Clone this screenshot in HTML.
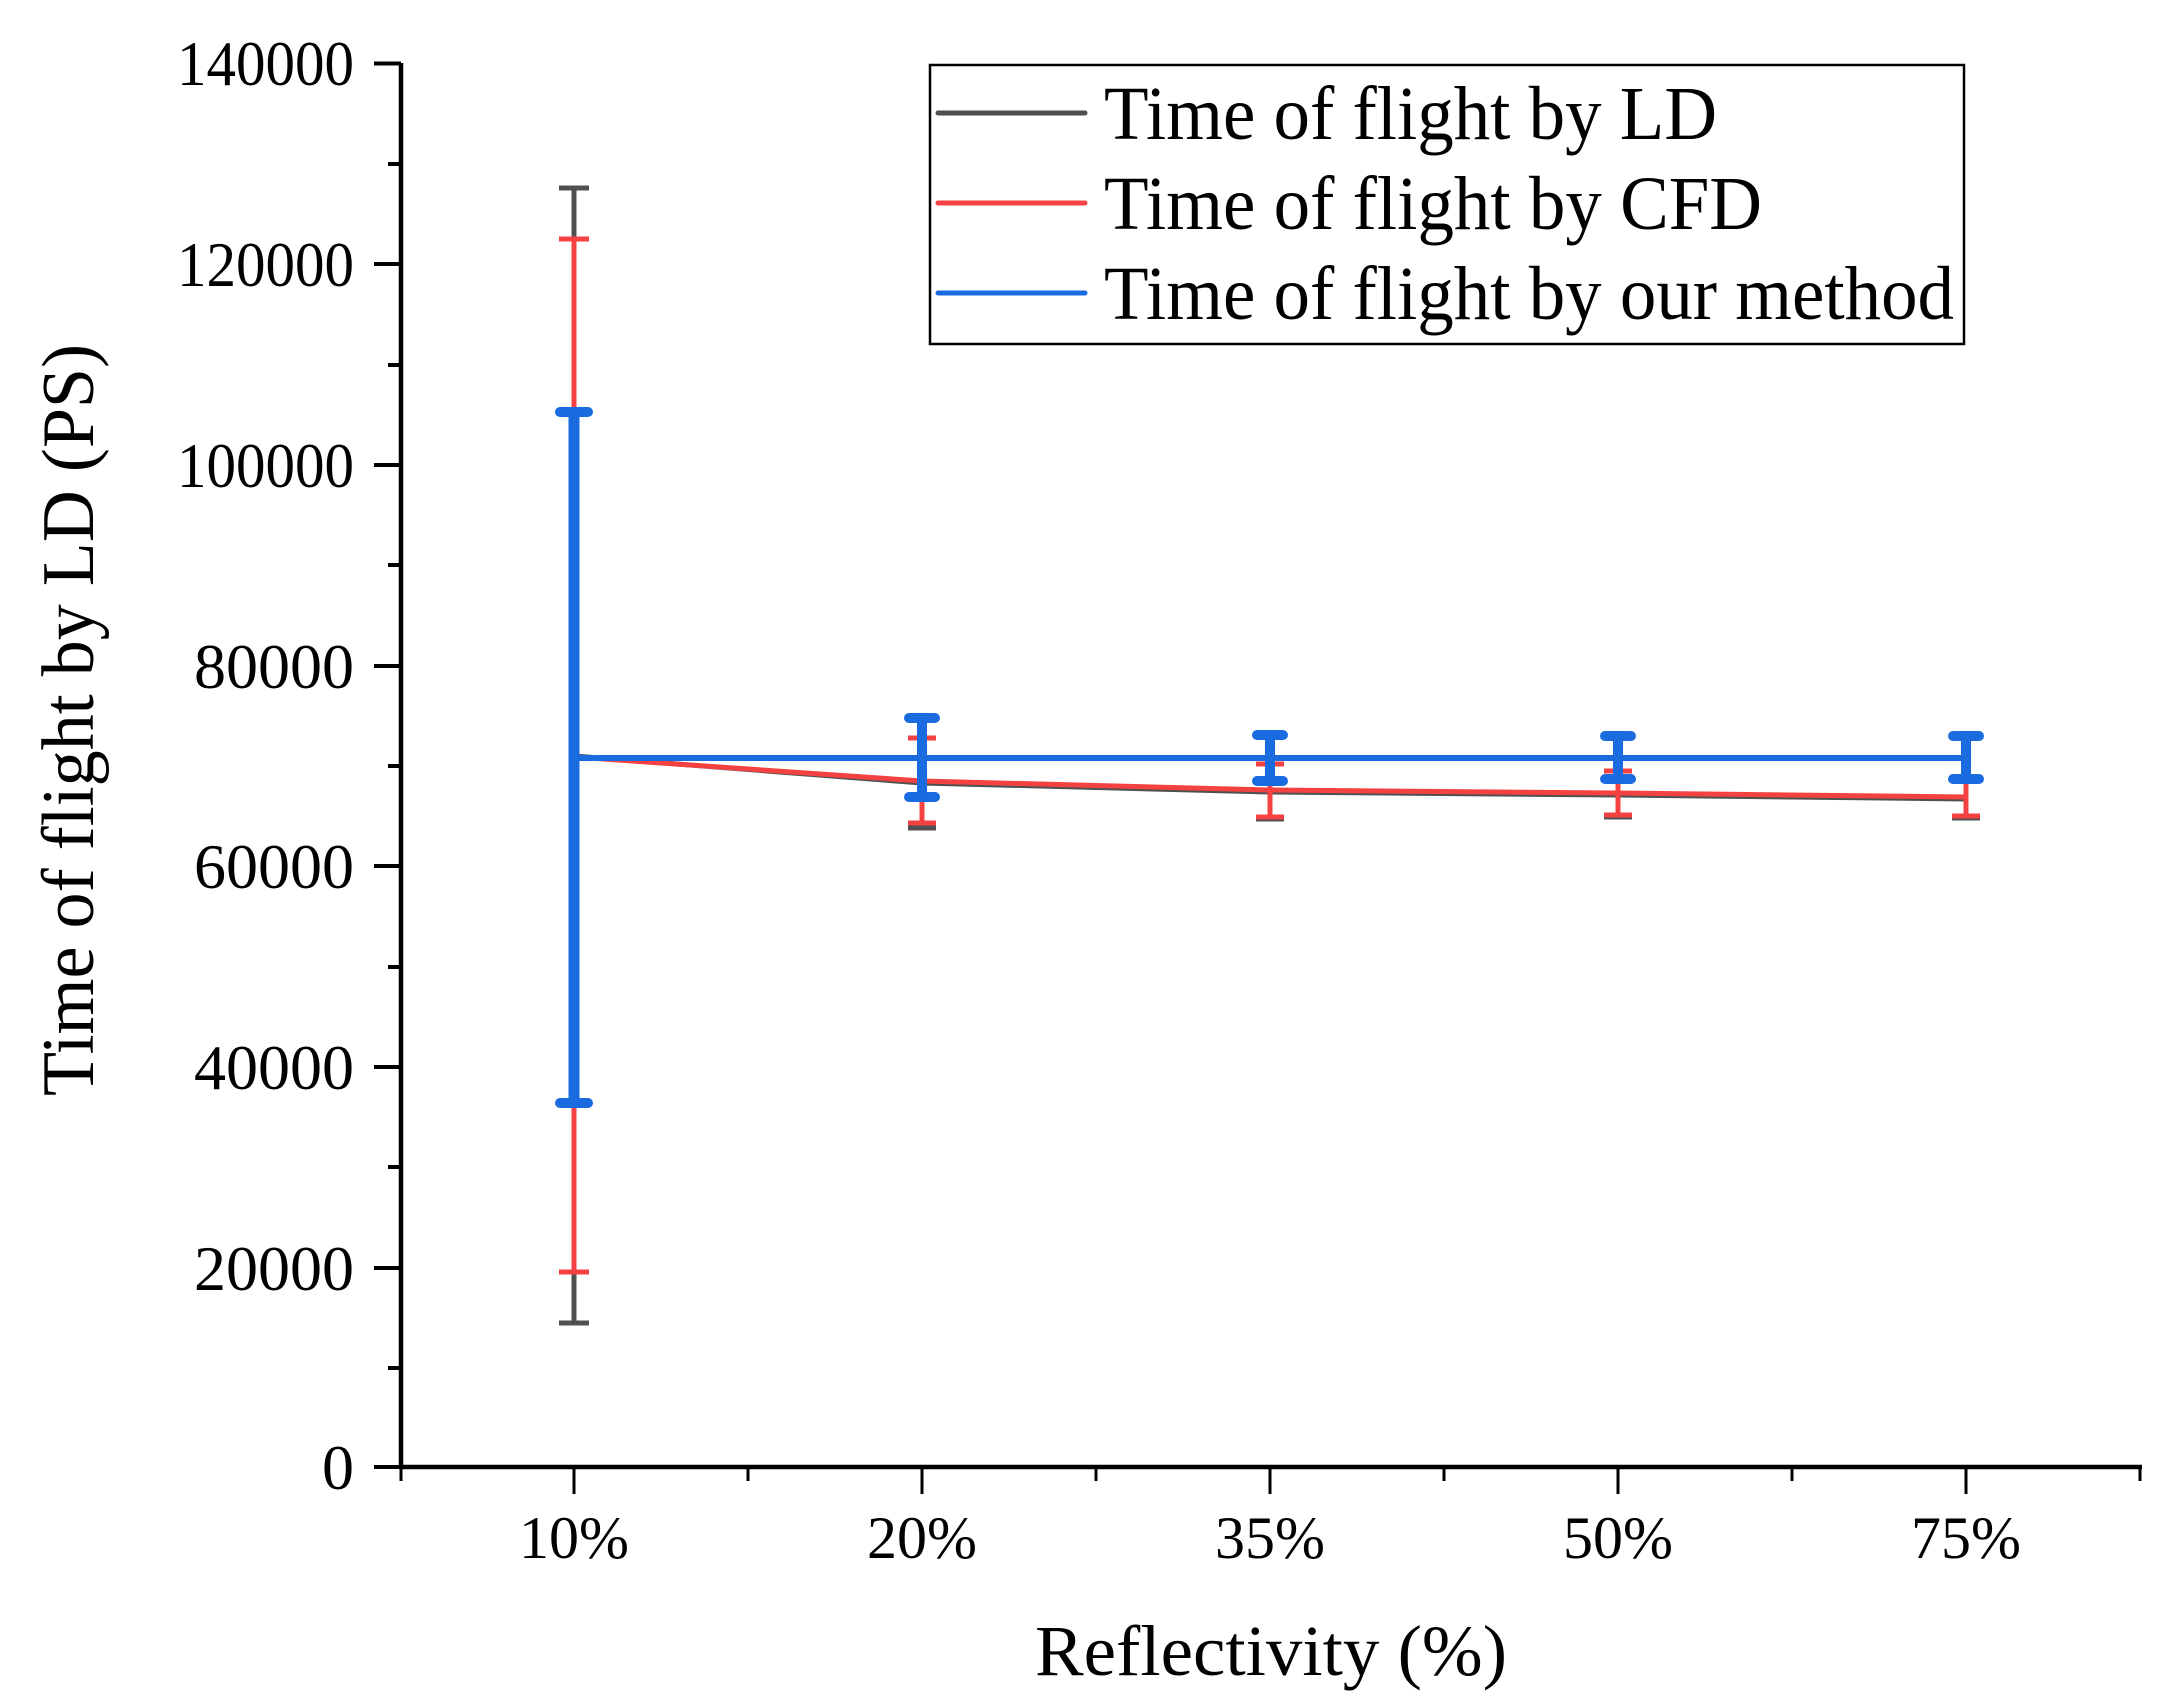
<!DOCTYPE html>
<html><head><meta charset="utf-8"><style>
html,body{margin:0;padding:0;background:#fff;}
svg{display:block;}
text{font-family:"Liberation Serif",serif;fill:#000;}
</style></head><body>
<svg width="2164" height="1702" viewBox="0 0 2164 1702" xmlns="http://www.w3.org/2000/svg">
<!-- axes -->
<g stroke="#000" stroke-width="4.5" fill="none">
<line x1="401" y1="63" x2="401" y2="1469"/>
<line x1="399" y1="1467" x2="2142" y2="1467"/>
</g>
<g stroke="#000" stroke-width="4">
<line x1="374" y1="63.5" x2="401" y2="63.5"/>
<line x1="388" y1="164" x2="401" y2="164"/>
<line x1="374" y1="264" x2="401" y2="264"/>
<line x1="388" y1="365" x2="401" y2="365"/>
<line x1="374" y1="465" x2="401" y2="465"/>
<line x1="388" y1="565" x2="401" y2="565"/>
<line x1="374" y1="666" x2="401" y2="666"/>
<line x1="388" y1="766" x2="401" y2="766"/>
<line x1="374" y1="866" x2="401" y2="866"/>
<line x1="388" y1="967" x2="401" y2="967"/>
<line x1="374" y1="1067" x2="401" y2="1067"/>
<line x1="388" y1="1167" x2="401" y2="1167"/>
<line x1="374" y1="1268" x2="401" y2="1268"/>
<line x1="388" y1="1368" x2="401" y2="1368"/>
<line x1="374" y1="1467" x2="401" y2="1467"/>
</g>
<g stroke="#000" stroke-width="3">
<line x1="401" y1="1467" x2="401" y2="1481"/>
<line x1="574" y1="1467" x2="574" y2="1494"/>
<line x1="748" y1="1467" x2="748" y2="1481"/>
<line x1="922" y1="1467" x2="922" y2="1494"/>
<line x1="1096" y1="1467" x2="1096" y2="1481"/>
<line x1="1270" y1="1467" x2="1270" y2="1494"/>
<line x1="1444" y1="1467" x2="1444" y2="1481"/>
<line x1="1618" y1="1467" x2="1618" y2="1494"/>
<line x1="1792" y1="1467" x2="1792" y2="1481"/>
<line x1="1966" y1="1467" x2="1966" y2="1494"/>
<line x1="2140" y1="1467" x2="2140" y2="1481"/>
</g>
<g font-size="64" text-anchor="end">
<text x="354" y="85" textLength="177" lengthAdjust="spacingAndGlyphs">140000</text>
<text x="354" y="286" textLength="177" lengthAdjust="spacingAndGlyphs">120000</text>
<text x="354" y="487" textLength="177" lengthAdjust="spacingAndGlyphs">100000</text>
<text x="354" y="688">80000</text>
<text x="354" y="888">60000</text>
<text x="354" y="1089">40000</text>
<text x="354" y="1290">20000</text>
<text x="354" y="1489">0</text>
</g>
<g font-size="60" text-anchor="middle">
<text x="574" y="1558">10%</text>
<text x="922" y="1558">20%</text>
<text x="1270" y="1558">35%</text>
<text x="1618" y="1558">50%</text>
<text x="1966" y="1558">75%</text>
</g>
<text x="1271" y="1675" font-size="72" text-anchor="middle" textLength="472" lengthAdjust="spacingAndGlyphs">Reflectivity (%)</text>
<text transform="translate(93,720) rotate(-90)" font-size="74" text-anchor="middle" textLength="752" lengthAdjust="spacingAndGlyphs">Time of flight by LD (PS)</text>

<!-- gray LD -->
<g stroke="#505050" stroke-width="5" fill="none">
<polyline points="574,756 922,783 1270,792 1618,795 1966,799"/>
<line x1="574" y1="188" x2="574" y2="1323"/><line x1="559" y1="188" x2="589" y2="188"/><line x1="559" y1="1323" x2="589" y2="1323"/>
<line x1="922" y1="740" x2="922" y2="828"/><line x1="908" y1="828" x2="936" y2="828"/>
<line x1="1270" y1="766" x2="1270" y2="819"/><line x1="1256" y1="819" x2="1284" y2="819"/>
<line x1="1618" y1="773" x2="1618" y2="817"/><line x1="1604" y1="817" x2="1632" y2="817"/>
<line x1="1966" y1="779" x2="1966" y2="818"/><line x1="1952" y1="818" x2="1980" y2="818"/>
</g>
<!-- red CFD -->
<g stroke="#f44242" stroke-width="5" fill="none">
<polyline points="574,757 922,781 1270,790 1618,793 1966,797"/>
<line x1="574" y1="239" x2="574" y2="1272"/><line x1="559" y1="239" x2="589" y2="239"/><line x1="559" y1="1272" x2="589" y2="1272"/>
<line x1="922" y1="738" x2="922" y2="823"/><line x1="908" y1="738" x2="936" y2="738"/><line x1="908" y1="823" x2="936" y2="823"/>
<line x1="1270" y1="764" x2="1270" y2="817"/><line x1="1256" y1="764" x2="1284" y2="764"/><line x1="1256" y1="817" x2="1284" y2="817"/>
<line x1="1618" y1="771" x2="1618" y2="815"/><line x1="1604" y1="771" x2="1632" y2="771"/><line x1="1604" y1="815" x2="1632" y2="815"/>
<line x1="1966" y1="779" x2="1966" y2="816"/><line x1="1952" y1="816" x2="1980" y2="816"/>
</g>
<!-- blue ours -->
<g stroke="#1a6be0" fill="none" stroke-linecap="round">
<line x1="574" y1="758" x2="1966" y2="758" stroke-width="6" stroke-linecap="butt"/>
<line x1="574" y1="412" x2="574" y2="1103" stroke-width="11" stroke-linecap="butt"/>
<line x1="560" y1="412" x2="588" y2="412" stroke-width="10"/><line x1="560" y1="1103" x2="588" y2="1103" stroke-width="10"/>
<line x1="922" y1="718" x2="922" y2="797" stroke-width="10" stroke-linecap="butt"/>
<line x1="909" y1="718" x2="935" y2="718" stroke-width="10"/><line x1="909" y1="797" x2="935" y2="797" stroke-width="10"/>
<line x1="1270" y1="735" x2="1270" y2="781" stroke-width="10" stroke-linecap="butt"/>
<line x1="1257" y1="735" x2="1283" y2="735" stroke-width="10"/><line x1="1257" y1="781" x2="1283" y2="781" stroke-width="10"/>
<line x1="1618" y1="736" x2="1618" y2="779" stroke-width="10" stroke-linecap="butt"/>
<line x1="1605" y1="736" x2="1631" y2="736" stroke-width="10"/><line x1="1605" y1="779" x2="1631" y2="779" stroke-width="10"/>
<line x1="1966" y1="736" x2="1966" y2="779" stroke-width="10" stroke-linecap="butt"/>
<line x1="1953" y1="736" x2="1979" y2="736" stroke-width="10"/><line x1="1953" y1="779" x2="1979" y2="779" stroke-width="10"/>
</g>

<!-- legend -->
<rect x="930" y="65" width="1034" height="279" fill="#fff" stroke="#000" stroke-width="2.5"/>
<line x1="938" y1="113" x2="1085" y2="113" stroke="#505050" stroke-width="5" stroke-linecap="round"/>
<line x1="938" y1="203" x2="1085" y2="203" stroke="#f44242" stroke-width="5" stroke-linecap="round"/>
<line x1="938" y1="293" x2="1085" y2="293" stroke="#1a6be0" stroke-width="5" stroke-linecap="round"/>
<g font-size="76">
<text x="1104" y="139" textLength="613" lengthAdjust="spacingAndGlyphs">Time of flight by LD</text>
<text x="1104" y="229" textLength="658" lengthAdjust="spacingAndGlyphs">Time of flight by CFD</text>
<text x="1104" y="319" textLength="850" lengthAdjust="spacingAndGlyphs">Time of flight by our method</text>
</g>
</svg>
</body></html>
